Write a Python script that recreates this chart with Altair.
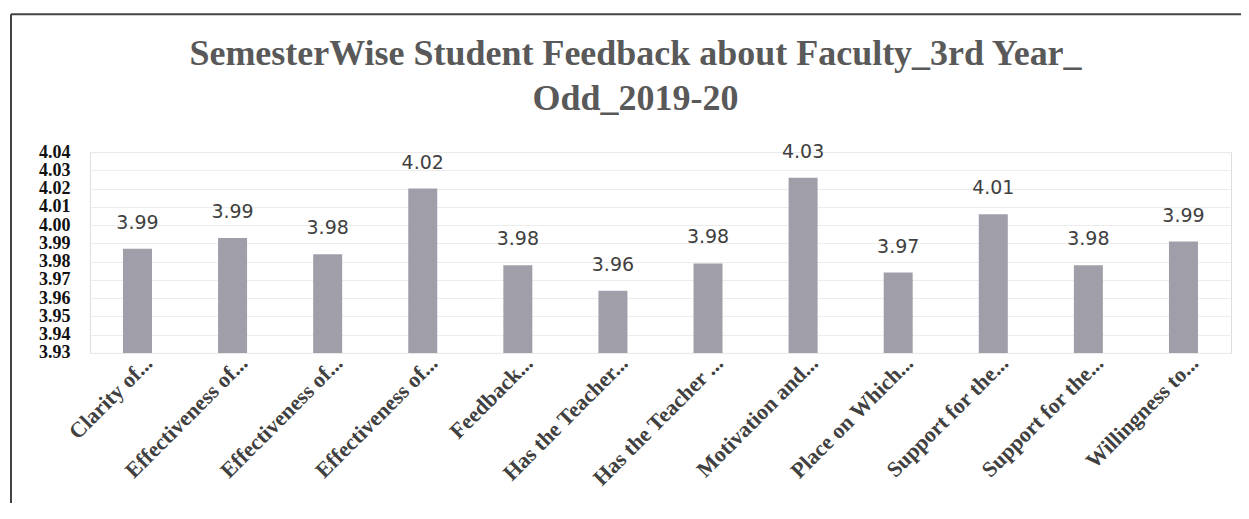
import altair as alt
import pandas as pd

categories = [
    "Clarity of...", "Effectiveness of...", "Effectiveness of...", "Effectiveness of...",
    "Feedback...", "Has the Teacher...", "Has the Teacher ...", "Motivation and...",
    "Place on Which...", "Support for the...", "Support for the...", "Willingness to...",
]
scores = [3.987, 3.993, 3.984, 4.020, 3.978, 3.964, 3.979, 4.026, 3.974, 4.006, 3.978, 3.991]
y_ticks = [3.93, 3.94, 3.95, 3.96, 3.97, 3.98, 3.99, 4.00, 4.01, 4.02, 4.03, 4.04]
title_lines = ["SemesterWise Student Feedback about Faculty_3rd  Year_", "Odd_2019-20"]

df = pd.DataFrame({
    "idx": list(range(len(categories))),
    "label": categories,
    "score": scores,
    "base": [y_ticks[0]] * len(categories),
})

x_enc = alt.X(
    "idx:O",
    scale=alt.Scale(paddingInner=0.695, paddingOuter=0.3475),
    axis=alt.Axis(title=None, labels=False, ticks=False, domain=False),
)
y_scale = alt.Scale(domain=[y_ticks[0], y_ticks[-1]], zero=False, nice=False)
y_enc = alt.Y(
    "score:Q", scale=y_scale,
    axis=alt.Axis(
        title=None, values=y_ticks, format=".2f", labelFont="Liberation Serif",
        labelFontWeight="bold", labelFontSize=18, labelColor="#111111", ticks=False,
        domain=False, labelPadding=20, labelOverlap=False, grid=True,
        gridColor="#ececec", gridWidth=1,
    ),
)

base = alt.Chart(df)
bars = base.mark_bar(color="#a09fa9").encode(x=x_enc, y=y_enc, y2="base:Q")
texts = base.mark_text(
    font="DejaVu Sans", fontSize=19, color="#404040", baseline="middle", dy=-26
).encode(x=x_enc, y=y_enc, text=alt.Text("score:Q", format=".2f"))

cat_labels = base.mark_text(
    font="Liberation Serif", fontWeight="bold", fontSize=22, color="#404040",
    angle=315, align="right", baseline="middle", dx=16,
).encode(x=x_enc, y=alt.value(219), text="label:N")

frame_df = pd.DataFrame({"k": [0]})
left_line = alt.Chart(frame_df).mark_rule(color="#444444", strokeWidth=2).encode(
    x=alt.value(-79), y=alt.value(-138), y2=alt.value(420)
)
top_line = alt.Chart(frame_df).mark_rule(color="#444444", strokeWidth=2).encode(
    x=alt.value(-79), x2=alt.value(1160), y=alt.value(-138)
)

chart = (
    alt.layer(bars, texts, cat_labels, left_line, top_line)
    .properties(
        width=1142, height=201,
        title=alt.TitleParams(
            title_lines, font="Liberation Serif", fontSize=36, fontWeight="bold",
            color="#595959", anchor="middle", dx=-25, offset=-105, lineHeight=45,
        ),
        autosize=alt.AutoSizeParams(type="none"),
        padding={"left": 82, "top": 144, "right": 10, "bottom": 150},
    )
    .configure_view(stroke=None)
    .configure(background="white")
)

chart.save("out.html", embed_options={"renderer": "svg", "actions": False})
